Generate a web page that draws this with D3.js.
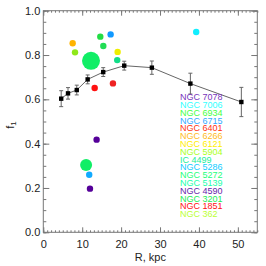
<!DOCTYPE html>
<html>
<head>
<meta charset="utf-8">
<script src="https://cdn.jsdelivr.net/npm/d3@7"></script>
<style>
  body { margin: 0; background: #fff; }
  svg { display: block; font-family: "Liberation Sans", Arial, sans-serif; }
</style>
</head>
<body>
<svg id="svg"></svg>
<script>
// profile points (black squares with error bars)
const profR = [4.6, 6.35, 8.6, 11.4, 15.4, 20.8, 27.9, 37.8, 50.9];
const profF = [0.603, 0.627, 0.642, 0.690, 0.723, 0.752, 0.743, 0.671, 0.588];
const profErr = [0.036, 0.026, 0.022, 0.02, 0.02, 0.02, 0.03, 0.047, 0.066];

// cluster points
const clusR = [7.55, 8.15, 12.26, 14.65, 15.42, 17.3, 19.1, 19.0, 13.2, 17.9, 39.3, 13.7, 11.0, 11.8, 12.0];
const clusF = [0.853, 0.812, 0.774, 0.883, 0.841, 0.893, 0.814, 0.777, 0.651, 0.672, 0.904, 0.418, 0.304, 0.26, 0.197];
const clusSize = [1, 1, 3, 1, 1, 1, 1, 1, 1, 1, 1, 1, 2, 1, 1];
const clusColor = ["#ffb300", "#8fe81a", "#11ee66", "#22dd44", "#22dd55", "#1199ff", "#eeee00", "#11dd88",
                   "#ff1111", "#ee2222", "#11eeff", "#550099", "#11ee66", "#11aaff", "#550099"];

// legend names
const names = ["NGC 7078", "NGC 7006", "NGC 6934", "NGC 6715", "NGC 6401", "NGC 6266", "NGC 6121", "NGC 5904",
               "IC 4499", "NGC 5286", "NGC 5272", "NGC 5139", "NGC 4590", "NGC 3201", "NGC 1851", "NGC 362"];
const nameColor = ["#7733bb", "#33ffff", "#44ff44", "#33aaff", "#ff3311", "#ffbb22", "#ffee00", "#aaff22",
                   "#22ee99", "#11ccff", "#22ff77", "#22ffaa", "#6622aa", "#22ee55", "#ff1111", "#bbff33"];

const width = 266, height = 266;
const mLeft = 43.3, mRight = 257.3, mTop = 10.7, mBottom = 232.3;

const svg = d3.select("#svg")
  .attr("width", width)
  .attr("height", height)
  .attr("viewBox", [0, 0, width, height]);

const x = d3.scaleLinear([0, 55], [mLeft, mRight]);
const y = d3.scaleLinear([0, 1], [mBottom, mTop]);

const axisColor = "#777";

// minor ticks
svg.append("g").attr("transform", `translate(0,${mBottom})`)
  .call(d3.axisBottom(x).tickValues(d3.range(0, 56, 1)).tickSize(-2).tickFormat(""));
svg.append("g").attr("transform", `translate(0,${mTop})`)
  .call(d3.axisTop(x).tickValues(d3.range(0, 56, 1)).tickSize(-2).tickFormat(""));
svg.append("g").attr("transform", `translate(${mLeft},0)`)
  .call(d3.axisLeft(y).tickValues(d3.range(0, 1.001, 0.05)).tickSize(-3).tickFormat(""));
svg.append("g").attr("transform", `translate(${mRight},0)`)
  .call(d3.axisRight(y).tickValues(d3.range(0, 1.001, 0.05)).tickSize(-3).tickFormat(""));

// major ticks with labels
svg.append("g").attr("transform", `translate(0,${mBottom})`)
  .call(d3.axisBottom(x).tickValues([0, 10, 20, 30, 40, 50]).tickSize(-5).tickPadding(8));
svg.append("g").attr("transform", `translate(0,${mTop})`)
  .call(d3.axisTop(x).tickValues([0, 10, 20, 30, 40, 50]).tickSize(-5).tickFormat(""));
svg.append("g").attr("transform", `translate(${mLeft},0)`)
  .call(d3.axisLeft(y).tickValues([0, 0.2, 0.4, 0.6, 0.8, 1.0]).tickSize(-6).tickPadding(3).tickFormat(d3.format(".1f")));
svg.append("g").attr("transform", `translate(${mRight},0)`)
  .call(d3.axisRight(y).tickValues([0, 0.2, 0.4, 0.6, 0.8, 1.0]).tickSize(-6).tickFormat(""));

svg.selectAll(".domain").remove();
svg.selectAll(".tick line").attr("stroke", axisColor);
svg.selectAll(".tick text").attr("fill", "#222").attr("font-size", 11)
  .attr("font-family", "Liberation Sans, Arial, sans-serif");

svg.append("rect")
  .attr("x", mLeft).attr("y", mTop)
  .attr("width", mRight - mLeft).attr("height", mBottom - mTop)
  .attr("fill", "none").attr("stroke", axisColor).attr("stroke-width", 1);

// axis titles
svg.append("text")
  .attr("x", (mLeft + mRight) / 2).attr("y", 261)
  .attr("text-anchor", "middle").attr("font-size", 11).attr("fill", "#222")
  .text("R, kpc");

const yt = svg.append("text")
  .attr("transform", "translate(14,125) rotate(-90)")
  .attr("text-anchor", "middle").attr("font-size", 11).attr("fill", "#222");
yt.append("tspan").text("f");
yt.append("tspan").attr("font-size", 8).attr("dy", 2).text("1");

// cluster circles
svg.append("g").selectAll("circle")
  .data(clusR.map((r, i) => ({ r, f: clusF[i], s: clusSize[i], c: clusColor[i] })))
  .join("circle")
  .attr("cx", d => x(d.r))
  .attr("cy", d => y(d.f))
  .attr("r", d => d.s === 3 ? 9 : d.s === 2 ? 6 : 3.2)
  .attr("fill", d => d.c);

// profile
const prof = profR.map((r, i) => ({ r, f: profF[i], e: profErr[i] }));

svg.append("path")
  .datum(prof)
  .attr("fill", "none")
  .attr("stroke", "#666")
  .attr("stroke-width", 1)
  .attr("d", d3.line().x(d => x(d.r)).y(d => y(d.f)));

const eb = svg.append("g").attr("stroke", "#666").attr("stroke-width", 1);
eb.selectAll("line.v").data(prof).join("line").attr("class", "v")
  .attr("x1", d => x(d.r)).attr("x2", d => x(d.r))
  .attr("y1", d => y(d.f - d.e)).attr("y2", d => y(d.f + d.e));
eb.selectAll("line.t").data(prof).join("line").attr("class", "t")
  .attr("x1", d => x(d.r) - 2).attr("x2", d => x(d.r) + 2)
  .attr("y1", d => y(d.f + d.e)).attr("y2", d => y(d.f + d.e));
eb.selectAll("line.b").data(prof).join("line").attr("class", "b")
  .attr("x1", d => x(d.r) - 2).attr("x2", d => x(d.r) + 2)
  .attr("y1", d => y(d.f - d.e)).attr("y2", d => y(d.f - d.e));

svg.append("g").selectAll("rect")
  .data(prof)
  .join("rect")
  .attr("x", d => x(d.r) - 2.2)
  .attr("y", d => y(d.f) - 2.2)
  .attr("width", 4.4).attr("height", 4.4)
  .attr("fill", "#000");

// legend
svg.append("g").selectAll("text")
  .data(names)
  .join("text")
  .attr("x", 180)
  .attr("y", (d, i) => 97 + i * 7.8)
  .attr("dy", "0.35em")
  .attr("font-size", 9)
  .attr("fill", (d, i) => nameColor[i])
  .text(d => d);
</script>
</body>
</html>
